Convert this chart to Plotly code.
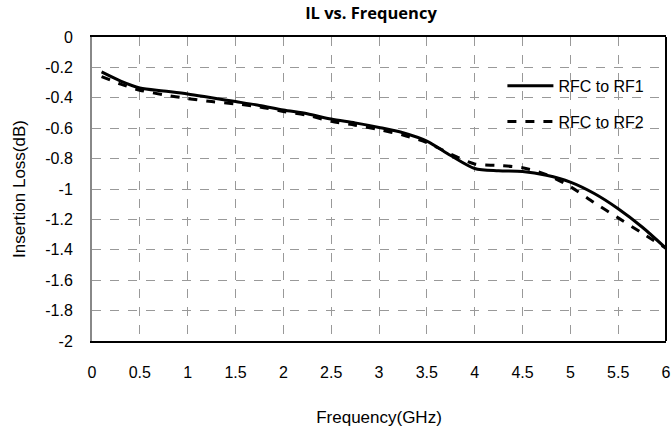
import plotly.graph_objects as go

freq1 = [0.1, 0.3, 0.5, 0.75, 1.0, 1.25, 1.5, 1.75, 2.0, 2.25, 2.5, 2.75, 3.0, 3.25, 3.5, 3.75, 4.0, 4.25, 4.5, 4.75, 5.0, 5.25, 5.5, 5.75, 6.0]
rf1 = [-0.23, -0.29, -0.335, -0.355, -0.375, -0.40, -0.425, -0.45, -0.48, -0.505, -0.54, -0.565, -0.595, -0.63, -0.685, -0.78, -0.865, -0.88, -0.885, -0.91, -0.955, -1.03, -1.13, -1.25, -1.39]
freq2 = [0.1, 0.3, 0.5, 0.75, 1.0, 1.25, 1.5, 1.75, 2.0, 2.25, 2.5, 2.75, 3.0, 3.25, 3.5, 3.75, 4.0, 4.25, 4.5, 4.75, 5.0, 5.25, 5.5, 5.75, 6.0]
rf2 = [-0.26, -0.31, -0.35, -0.38, -0.405, -0.425, -0.44, -0.46, -0.49, -0.515, -0.555, -0.58, -0.61, -0.645, -0.695, -0.77, -0.835, -0.845, -0.86, -0.905, -0.985, -1.09, -1.19, -1.29, -1.39]

xticks = [0, 0.5, 1, 1.5, 2, 2.5, 3, 3.5, 4, 4.5, 5, 5.5, 6]
xticklabels = ["0", "0.5", "1", "1.5", "2", "2.5", "3", "3.5", "4", "4.5", "5", "5.5", "6"]
yticks = [0, -0.2, -0.4, -0.6, -0.8, -1, -1.2, -1.4, -1.6, -1.8, -2]
yticklabels = ["0", "-0.2", "-0.4", "-0.6", "-0.8", "-1", "-1.2", "-1.4", "-1.6", "-1.8", "-2"]

fig = go.Figure()
fig.add_trace(go.Scatter(x=freq1, y=rf1, mode="lines", name="RFC to RF1", legendgroup="a",
                         line=dict(color="black", width=3, shape="spline", smoothing=0.8)))
fig.add_trace(go.Scatter(x=freq2, y=rf2, mode="lines", name="RFC to RF2", legendgroup="b",
                         line=dict(color="black", width=3, dash="dash", shape="spline", smoothing=0.8)))

font_main = "Liberation Sans, Arial, sans-serif"
fig.update_layout(
    width=671, height=429,
    margin=dict(l=92, r=5, t=37, b=88, autoexpand=False),
    paper_bgcolor="white", plot_bgcolor="white",
    title=dict(text="<b>IL vs. Frequency</b>", x=371/671, xanchor="center", y=1 - 13/429, yanchor="middle",
               font=dict(family="Open Sans, sans-serif", size=16.5, color="black")),
    font=dict(family=font_main, size=16, color="black"),
    showlegend=True,
    legend=dict(x=0.715, y=0.895, xanchor="left", yanchor="top", bgcolor="rgba(0,0,0,0)",
                font=dict(size=16, family=font_main), itemwidth=46, traceorder="grouped",
                tracegroupgap=12),
    xaxis=dict(range=[0, 6], tickvals=xticks, ticktext=xticklabels, automargin=False,
               showgrid=True, gridcolor="#999999", griddash="dash", gridwidth=1,
               showline=True, linecolor="black", linewidth=2, mirror=True,
               ticks="", ticklabelstandoff=16, zeroline=False,
               title=dict(text="Frequency(GHz)", font=dict(size=17), standoff=31)),
    yaxis=dict(range=[-2, 0], tickvals=yticks, ticktext=yticklabels, automargin=False,
               showgrid=True, gridcolor="#999999", griddash="dash", gridwidth=1,
               showline=True, linecolor="#888888", linewidth=2, mirror=False,
               ticks="", ticklabelstandoff=14, zeroline=False,
               title=dict(text="Insertion Loss(dB)", font=dict(size=17), standoff=15)),
    shapes=[dict(type="line", xref="x domain", yref="y domain", x0=1, x1=1, y0=0, y1=1,
                 line=dict(color="black", width=2))],
)

fig.write_html("out.html", config={"displayModeBar": False},
               post_script="document.body.style.margin='0';document.body.style.overflow='hidden';")
